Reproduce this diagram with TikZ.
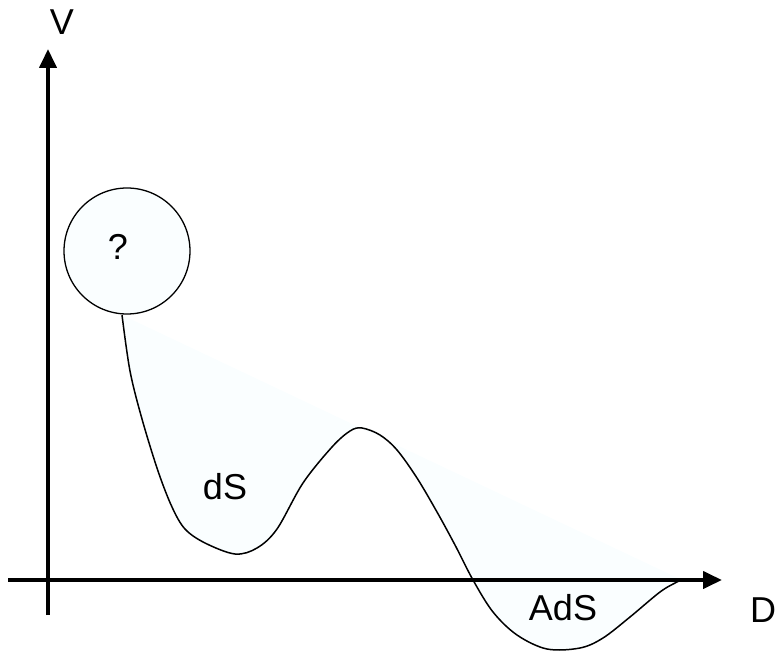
\documentclass[tikz,border=0pt]{standalone}
\usepackage{fontspec}
\setmainfont{Liberation Sans}
\usetikzlibrary{arrows.meta}
\definecolor{paleblue}{RGB}{250,254,255}
\tikzset{
  axis/.style={line width=4pt,-{Triangle[length=19pt,width=17pt]}},
  curve/.style={line width=1.5pt,black},
  lbl/.style={font=\fontsize{36}{40}\selectfont,inner sep=0pt},
  bubble/.style={circle,draw=black,line width=1.3pt,fill=paleblue,minimum size=126pt,inner sep=0pt}
}
\def\pts{(122,336) (130,280) (142,232) (158,180) (172,144) (185,122) (205,108) (235,97) (257,103) (277,122) (303,168) (332,204) (350,220) (362,223) (380,216) (397,201) (417,173) (437,139) (455,106) (473,71) (493,39) (517,16) (547,2) (580,3) (603,13) (630,34) (660,59) (677,69) (682,71)}
\begin{document}
\begin{tikzpicture}[x=1pt,y=1pt]
\useasboundingbox (0,0) rectangle (776,651);
\fill[paleblue] plot[smooth,tension=0.55] coordinates {\pts} -- cycle;
\coordinate (yb) at (48,36);
\coordinate (yt) at (48,602);
\coordinate (xl) at (8,71);
\coordinate (xr) at (722,71);
\draw[axis] (yb) -- (yt);
\draw[axis] (xl) -- (xr);
\draw[curve] plot[smooth,tension=0.55] coordinates {\pts};
\node[bubble] (b) at (127,400) {};
\node[lbl] (q) at (118,404) {?};
\node[lbl] (v) at (62,629) {V};
\node[lbl] (d) at (763,41) {D};
\node[lbl] (ds) at (225,164) {dS};
\node[lbl] (ads) at (563,43) {AdS};
\end{tikzpicture}
\end{document}
